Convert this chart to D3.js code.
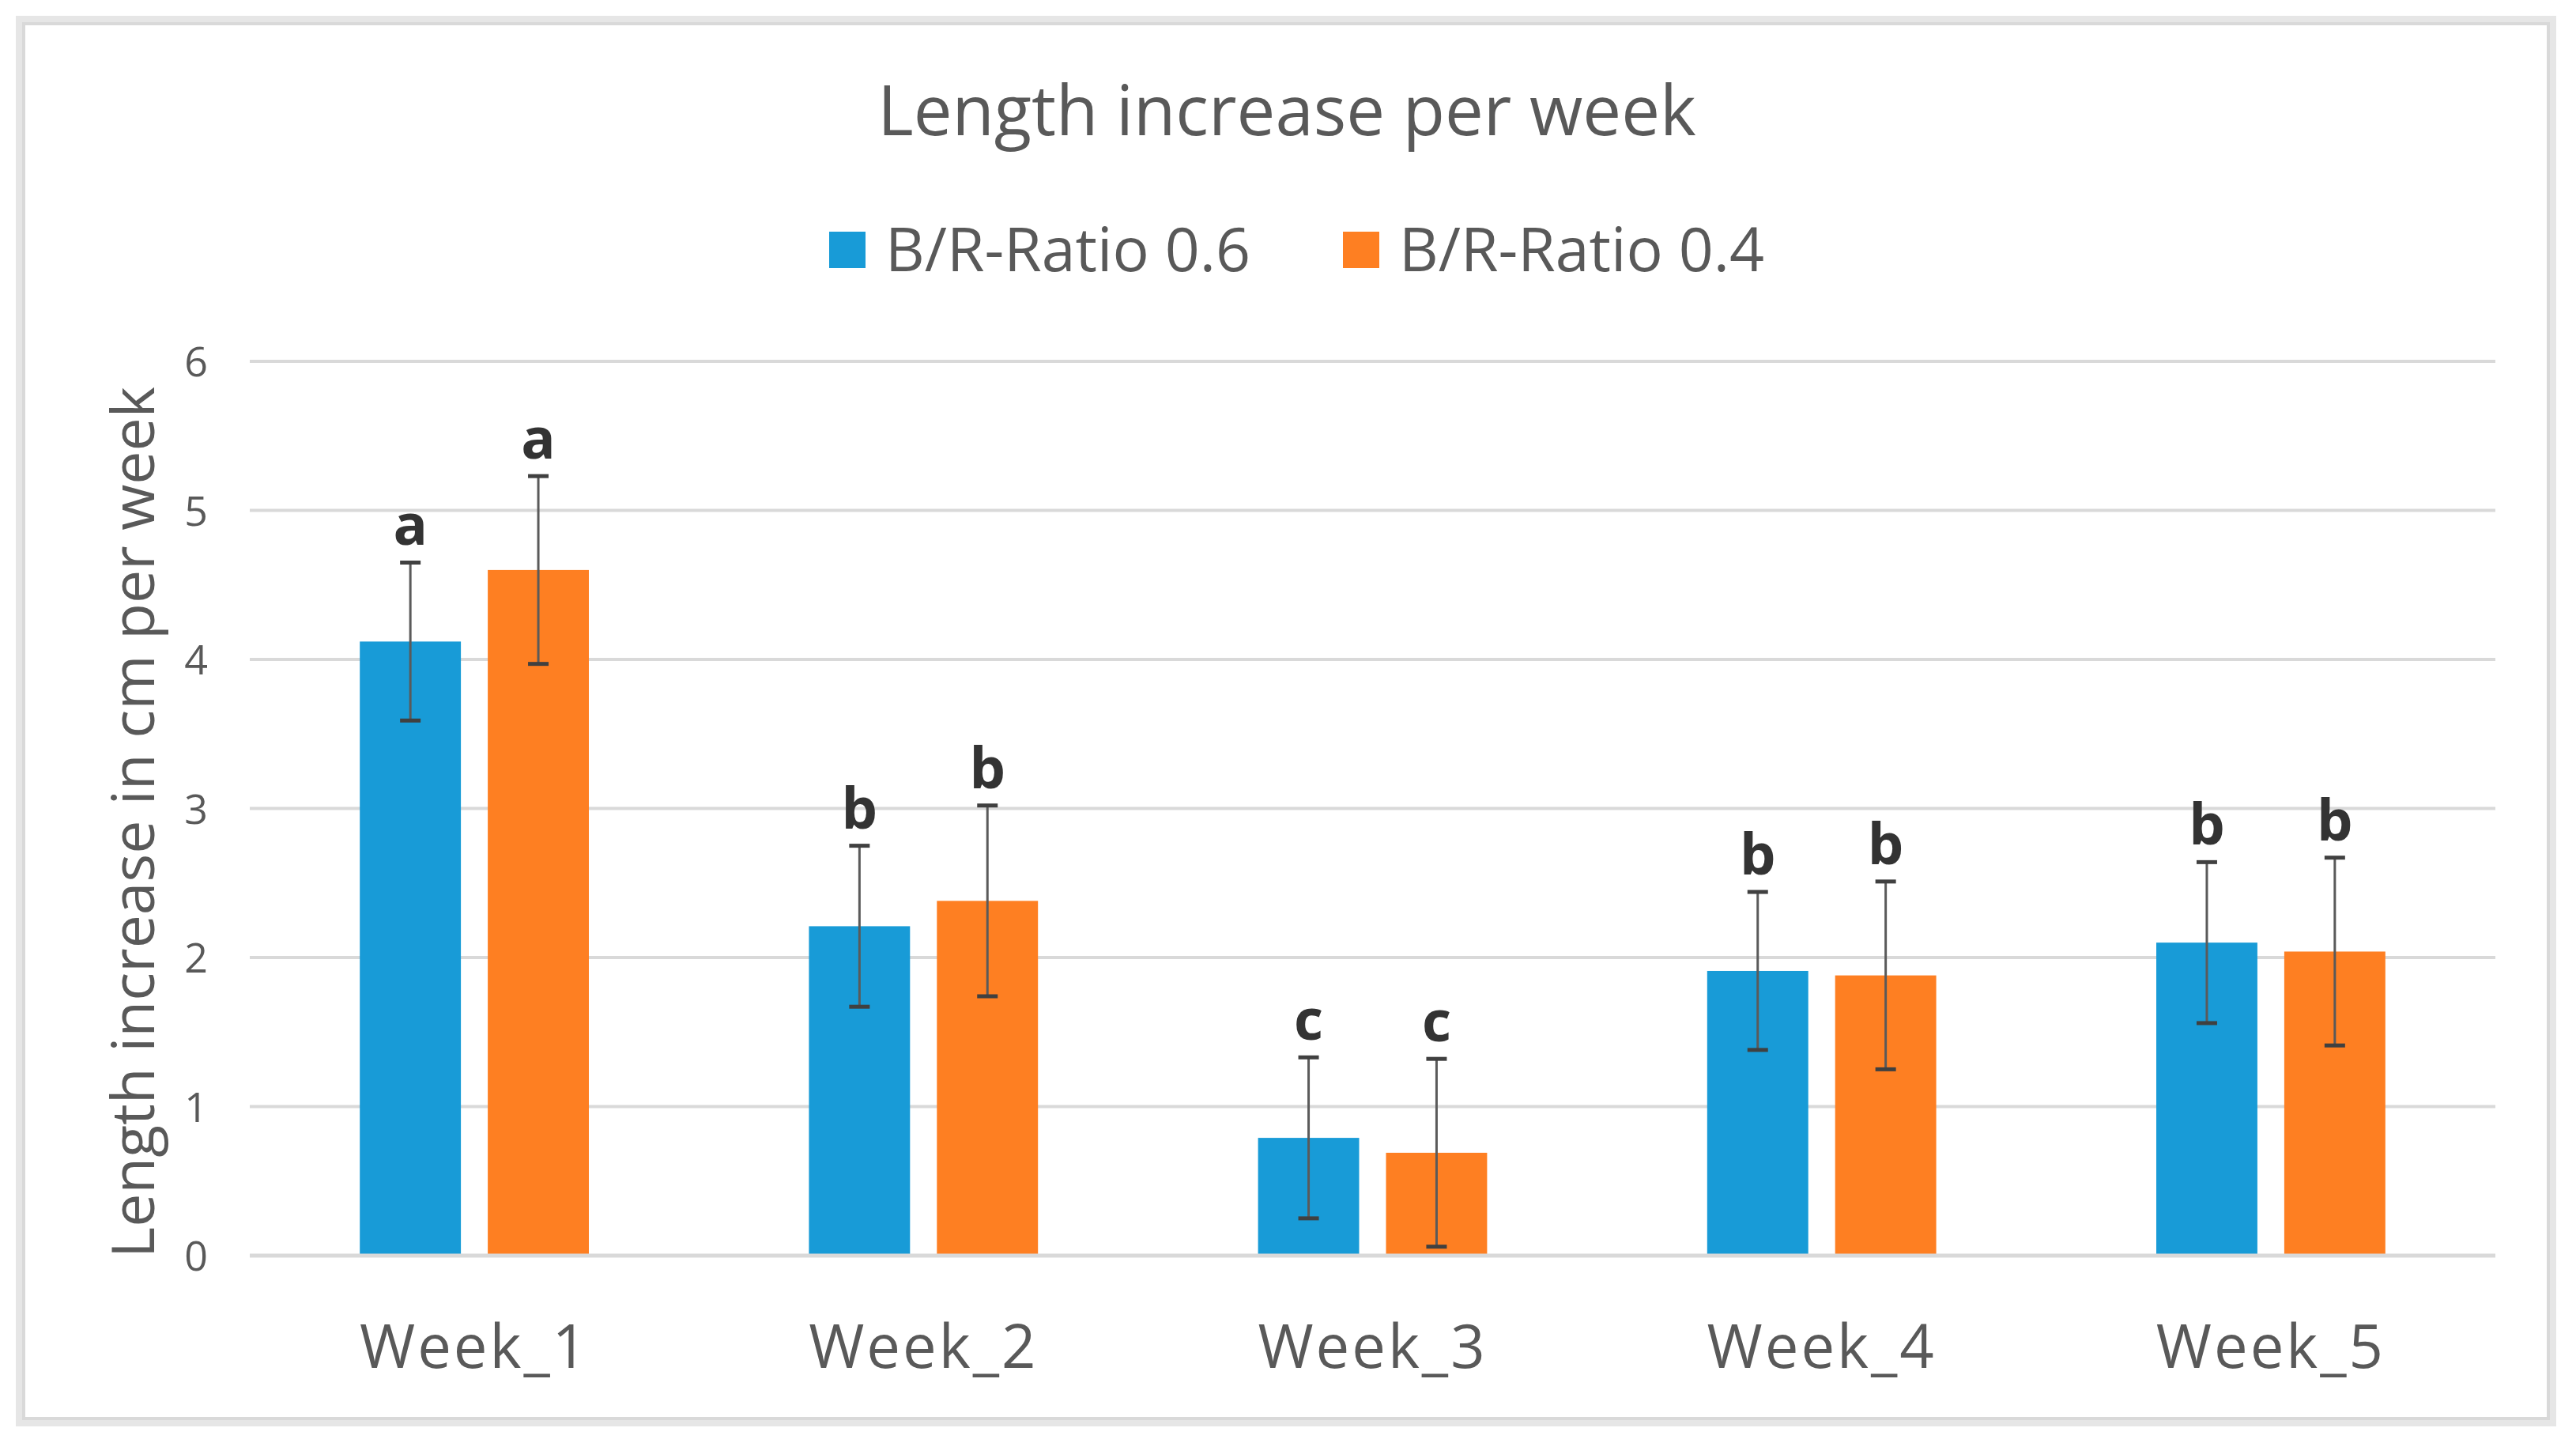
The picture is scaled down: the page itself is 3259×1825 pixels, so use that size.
<!DOCTYPE html>
<html>
<head>
<meta charset="utf-8">
<script src="https://cdn.jsdelivr.net/npm/d3@7"></script>
<style>
  html, body { margin: 0; padding: 0; background: #fff; }
  svg { display: block; }
  text { font-family: "Open Sans", "Noto Sans", sans-serif; }
</style>
</head>
<body>
<svg id="chart" width="3259" height="1825"></svg>
<script>
(function () {
  var weeks = ['Week_1', 'Week_2', 'Week_3', 'Week_4', 'Week_5'],
      seriesNames = ['B/R-Ratio 0.6', 'B/R-Ratio 0.4'],
      ratio06 = [4.12, 2.21, 0.79, 1.91, 2.10],
      ratio04 = [4.60, 2.38, 0.69, 1.88, 2.04],
      ratio06Err = [0.53, 0.54, 0.54, 0.53, 0.54],
      ratio04Err = [0.63, 0.64, 0.63, 0.63, 0.63],
      ratio06Letters = ['a', 'b', 'c', 'b', 'b'],
      ratio04Letters = ['a', 'b', 'c', 'b', 'b'],
      yTicks = [0, 1, 2, 3, 4, 5, 6];

  var colors = {'B/R-Ratio 0.6': '#189bd7', 'B/R-Ratio 0.4': '#fe7f22'},
      textColor = '#595959',
      gridColor = '#d9d9d9';

  var svg = d3.select('#chart');

  // frame round the chart
  svg.append('rect')
    .attr('x', 20).attr('y', 20)
    .attr('width', 3214).attr('height', 1784)
    .attr('fill', '#e6e6e6');
  svg.append('rect')
    .attr('x', 30).attr('y', 30)
    .attr('width', 3194).attr('height', 1764)
    .attr('fill', '#fff')
    .attr('stroke', gridColor)
    .attr('stroke-width', 4);

  var plot = {left: 316, right: 3157, top: 457, bottom: 1588};

  var x0 = d3.scaleBand()
    .domain(weeks)
    .range([plot.left, plot.right]);

  var bw = x0.bandwidth();
  var x1 = d3.scaleBand()
    .domain(seriesNames)
    .range([bw * 0.245, bw * 0.755])
    .paddingInner(0.21);

  var y = d3.scaleLinear()
    .domain([0, 6])
    .range([plot.bottom, plot.top]);

  // gridlines
  svg.append('g')
    .selectAll('line')
    .data(yTicks.filter(function (d) { return d > 0; }))
    .join('line')
      .attr('x1', plot.left).attr('x2', plot.right)
      .attr('y1', function (d) { return y(d); })
      .attr('y2', function (d) { return y(d); })
      .attr('stroke', gridColor)
      .attr('stroke-width', 4);

  // y axis labels, no axis line
  var yAxis = svg.append('g')
    .attr('transform', 'translate(263,0)')
    .call(d3.axisLeft(y).tickValues(yTicks).tickFormat(d3.format('d'))
      .tickSize(0).tickPadding(0));
  yAxis.select('.domain').remove();
  yAxis.selectAll('text')
    .attr('fill', textColor)
    .style('font-size', '52px')
    .attr('dy', '0.36em');

  var rows = weeks.map(function (w, i) {
    return [
      {week: w, name: seriesNames[0], value: ratio06[i], err: ratio06Err[i], letter: ratio06Letters[i]},
      {week: w, name: seriesNames[1], value: ratio04[i], err: ratio04Err[i], letter: ratio04Letters[i]}
    ];
  });

  var groups = svg.append('g')
    .selectAll('g')
    .data(rows)
    .join('g')
      .attr('transform', function (d) { return 'translate(' + x0(d[0].week) + ',0)'; });

  groups.selectAll('rect')
    .data(function (d) { return d; })
    .join('rect')
      .attr('x', function (d) { return x1(d.name); })
      .attr('width', x1.bandwidth())
      .attr('y', function (d) { return y(d.value); })
      .attr('height', function (d) { return y(0) - y(d.value); })
      .attr('fill', function (d) { return colors[d.name]; });

  // baseline over the bars
  svg.append('line')
    .attr('x1', plot.left).attr('x2', plot.right)
    .attr('y1', y(0)).attr('y2', y(0))
    .attr('stroke', gridColor)
    .attr('stroke-width', 5);

  // error bars
  var cx = function (d) { return x1(d.name) + x1.bandwidth() / 2; };
  var errs = groups.selectAll('g.err')
    .data(function (d) { return d; })
    .join('g')
      .attr('class', 'err');

  errs.append('line')
    .attr('x1', cx).attr('x2', cx)
    .attr('y1', function (d) { return y(d.value + d.err); })
    .attr('y2', function (d) { return y(d.value - d.err); })
    .attr('stroke', '#5a5a5a')
    .attr('stroke-width', 3);

  [1, -1].forEach(function (sign) {
    errs.append('line')
      .attr('x1', function (d) { return cx(d) - 13; })
      .attr('x2', function (d) { return cx(d) + 13; })
      .attr('y1', function (d) { return y(d.value + sign * d.err); })
      .attr('y2', function (d) { return y(d.value + sign * d.err); })
      .attr('stroke', '#404040')
      .attr('stroke-width', 5);
  });

  // significance letters
  errs.append('text')
    .attr('x', cx)
    .attr('y', function (d) { return y(d.value + d.err) - 22; })
    .attr('text-anchor', 'middle')
    .attr('fill', '#333')
    .style('font-size', '72px')
    .style('font-weight', 'bold')
    .text(function (d) { return d.letter; });

  // x labels
  svg.append('g')
    .selectAll('text')
    .data(weeks)
    .join('text')
      .attr('x', function (d) { return x0(d) + bw / 2; })
      .attr('y', 1730)
      .attr('text-anchor', 'middle')
      .attr('fill', textColor)
      .style('font-size', '76px')
      .style('letter-spacing', '3px')
      .text(function (d) { return d; });

  // y axis title
  svg.append('text')
    .attr('transform', 'translate(195,1040) rotate(-90)')
    .attr('text-anchor', 'middle')
    .attr('fill', textColor)
    .style('font-size', '75px')
    .text('Length increase in cm per week');

  // title
  svg.append('text')
    .attr('x', 1628)
    .attr('y', 171)
    .attr('text-anchor', 'middle')
    .attr('fill', textColor)
    .style('font-size', '87px')
    .text('Length increase per week');

  // legend
  var legendX = [1049, 1699];
  var legend = svg.append('g')
    .selectAll('g')
    .data(seriesNames)
    .join('g')
      .attr('transform', function (d, i) { return 'translate(' + legendX[i] + ',293)'; });
  legend.append('rect')
    .attr('width', 46).attr('height', 46)
    .attr('fill', function (d) { return colors[d]; });
  legend.append('text')
    .attr('x', 71)
    .attr('y', 50)
    .attr('fill', textColor)
    .style('font-size', '77px')
    .text(function (d) { return d; });
})();
</script>
</body>
</html>
